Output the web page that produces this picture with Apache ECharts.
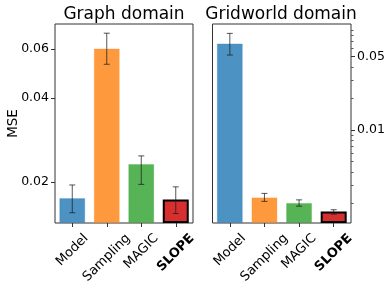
<!DOCTYPE html>
<html>
<head>
<meta charset="utf-8">
<script src="https://cdn.jsdelivr.net/npm/echarts@6/dist/echarts.min.js"></script>
<style>html,body{margin:0;padding:0;background:#fff}#c{width:390px;height:291px}</style>
</head>
<body>
<div id="c"></div>
<script>
var categories = ['Model', 'Sampling', 'MAGIC', 'SLOPE'];
var graphMSE = [0.0175, 0.0603, 0.0232, 0.0173];
var graphErrLow = [0.0155, 0.0529, 0.0196, 0.0154];
var graphErrHigh = [0.0195, 0.0684, 0.0248, 0.0192];
var gridMSE = [0.067, 0.00228, 0.00202, 0.00167];
var gridErrLow = [0.0519, 0.00209, 0.00188, 0.00158];
var gridErrHigh = [0.0835, 0.00249, 0.00216, 0.00174];
var graphTicks = [0.02, 0.04, 0.06];
var gridMajorTicks = [0.01, 0.05];
var gridMinorTicks = [0.002, 0.003, 0.004, 0.005, 0.006, 0.007, 0.008, 0.009,
                      0.02, 0.03, 0.04, 0.06, 0.07, 0.08, 0.09];
var graphRange = [0.01424, 0.0738];
var gridRange = [0.0013, 0.1026];

var FONT = 'DejaVu Sans';
var XFS = 13;
var fill = ['rgba(31,119,180,0.8)', 'rgba(255,127,14,0.8)', 'rgba(44,160,44,0.8)', 'rgba(214,39,40,0.97)'];
var edge = ['rgba(31,119,180,0.25)', 'rgba(255,127,14,0.25)', 'rgba(44,160,44,0.25)', '#000'];

// log10 transform relative to the axis minimum so bars grow from the bottom
function makeT(r) { var b = Math.log10(r[0]); return function (v) { return Math.log10(v) - b; }; }
function makeInv(r) { var b = Math.log10(r[0]); return function (t) { return Math.pow(10, t + b).toFixed(2); }; }
var T0 = makeT(graphRange), T1 = makeT(gridRange);

function bars(vals, T) {
  return vals.map(function (v, i) {
    return {
      value: T(v),
      itemStyle: { color: fill[i], borderColor: edge[i], borderWidth: i === 3 ? 2 : 1 }
    };
  });
}
function errData(lo, hi, T) {
  return lo.map(function (v, i) { return [i, T(v), T(hi[i])]; });
}
function errRender(params, api) {
  var a = api.coord([api.value(0), api.value(1)]);
  var b = api.coord([api.value(0), api.value(2)]);
  var x = a[0], w = 3;
  var st = { stroke: 'rgba(30,30,30,0.75)', lineWidth: 1 };
  return {
    type: 'group',
    children: [
      { type: 'line', shape: { x1: x, y1: a[1], x2: x, y2: b[1] }, style: st },
      { type: 'line', shape: { x1: x - w, y1: a[1], x2: x + w, y2: a[1] }, style: st },
      { type: 'line', shape: { x1: x - w, y1: b[1], x2: x + w, y2: b[1] }, style: st }
    ]
  };
}

// centre each rotated label's bounding box under its tick (matplotlib style)
var ctx = document.createElement('canvas').getContext('2d');
var rich = {};
categories.forEach(function (c, i) {
  var bold = c === 'SLOPE';
  ctx.font = (bold ? 'bold ' : '') + XFS + 'px "' + FONT + '"';
  var w = ctx.measureText(c).width;
  var p = (w + XFS * 1.15) / 2;
  rich['k' + i] = { fontSize: XFS, fontFamily: FONT, color: '#000', fontWeight: bold ? 'bold' : 'normal',
                    padding: [p, p, 0, 0] };
});

var xAxisBase = function (gi) {
  return {
    type: 'category', gridIndex: gi, data: categories,
    axisLine: { show: false },
    axisTick: { show: true, alignWithLabel: true, length: 4, lineStyle: { color: '#333' } },
    axisLabel: {
      interval: 0, rotate: 45, margin: 8, fontSize: XFS, fontFamily: FONT, color: '#000',
      align: 'center', verticalAlign: 'middle', hideOverlap: false,
      formatter: function (v) { return '{k' + categories.indexOf(v) + '|' + v + '}'; },
      rich: rich
    }
  };
};

var option = {
  animation: false,
  backgroundColor: '#fff',
  title: [
    { text: 'Graph domain', left: 119, top: 1, textAlign: 'center',
      textStyle: { fontFamily: FONT, fontSize: 17, fontWeight: 'normal', color: '#000' } },
    { text: 'Gridworld domain', left: 276, top: 1, textAlign: 'center',
      textStyle: { fontFamily: FONT, fontSize: 17, fontWeight: 'normal', color: '#000' } }
  ],
  grid: [
    { left: 55, right: 197, top: 24, bottom: 68, show: true, borderColor: '#333', borderWidth: 1,
      containLabel: false, outerBoundsMode: 'none' },
    { left: 212.5, right: 39, top: 24, bottom: 68, show: true, borderColor: '#333', borderWidth: 1,
      containLabel: false, outerBoundsMode: 'none' }
  ],
  xAxis: [xAxisBase(0), xAxisBase(1)],
  yAxis: [
    {
      type: 'value', gridIndex: 0, min: 0, max: T0(graphRange[1]),
      name: 'MSE', nameLocation: 'middle', nameGap: 35, nameMoveOverlap: false,
      nameTextStyle: { fontFamily: FONT, fontSize: 13.5, color: '#000' },
      axisLine: { show: false }, splitLine: { show: false },
      axisTick: { show: true, length: 4, customValues: graphTicks.map(T0), lineStyle: { color: '#333' } },
      axisLabel: { customValues: graphTicks.map(T0), formatter: makeInv(graphRange), fontFamily: FONT, fontSize: 12.5, color: '#000', margin: 6 }
    },
    {
      type: 'value', gridIndex: 1, position: 'right', min: 0, max: T1(gridRange[1]),
      axisLine: { show: false }, splitLine: { show: false },
      axisTick: { show: true, length: 4, customValues: gridMajorTicks.map(T1), lineStyle: { color: '#333' } },
      axisLabel: { customValues: gridMajorTicks.map(T1), formatter: makeInv(gridRange), fontFamily: FONT, fontSize: 12.5, color: '#000', margin: 6 }
    },
    {
      type: 'value', gridIndex: 1, position: 'right', min: 0, max: T1(gridRange[1]),
      axisLine: { show: false }, splitLine: { show: false },
      axisTick: { show: true, length: 2.5, customValues: gridMinorTicks.map(T1), lineStyle: { color: '#555' } },
      axisLabel: { show: false }
    }
  ],
  series: [
    { type: 'bar', xAxisIndex: 0, yAxisIndex: 0, barWidth: 26, data: bars(graphMSE, T0) },
    { type: 'custom', xAxisIndex: 0, yAxisIndex: 0, renderItem: errRender, data: errData(graphErrLow, graphErrHigh, T0), z: 5 },
    { type: 'bar', xAxisIndex: 1, yAxisIndex: 1, barWidth: 26, data: bars(gridMSE, T1) },
    { type: 'custom', xAxisIndex: 1, yAxisIndex: 1, renderItem: errRender, data: errData(gridErrLow, gridErrHigh, T1), z: 5 }
  ]
};
var chart = echarts.init(document.getElementById('c'), null, { renderer: 'canvas' });
chart.setOption(option);
</script>
</body>
</html>
